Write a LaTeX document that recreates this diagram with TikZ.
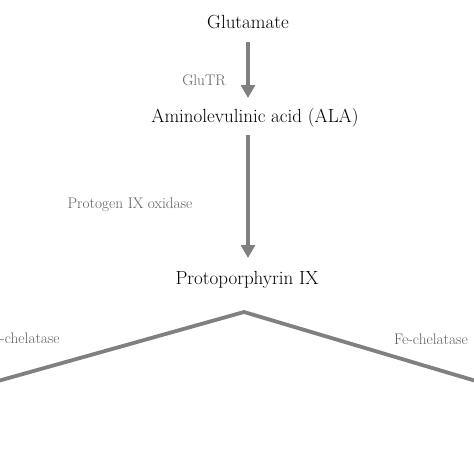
\documentclass[tikz,border=0pt]{standalone}
\usepackage{tikz}
\usetikzlibrary{arrows.meta,positioning}
\definecolor{pathgray}{HTML}{808080}
\definecolor{enzgray}{HTML}{5F5F5F}
\tikzset{
  metab/.style={font=\fontsize{19}{22}\selectfont,inner sep=1pt},
  enzyme/.style={font=\fontsize{15.3}{18}\selectfont,text=enzgray,inner sep=1pt},
  stepline/.style={pathgray,line width=3.8pt},
  steparrow/.style={stepline,-{Triangle[width=14pt,length=13pt]}}
}

\begin{document}
\begin{tikzpicture}[x=1pt,y=-1pt]
  \useasboundingbox (0,0) rectangle (474,474);
  \node[metab] (glu) at (248,22) {Glutamate};
  \node[metab] (ala) at (255,118) {Aminolevulinic acid (ALA)};
  \node[metab] (proto) at (247,280) {Protoporphyrin IX};
  \coordinate (apex) at (244,312);
  \coordinate (leftend) at (-2,381);
  \coordinate (rightend) at (476,381);
  \draw[steparrow] (248,42) -- (248,98);
  \draw[steparrow] (248,135) -- (248,258);
  \draw[stepline,line join=miter] (leftend) -- (apex) -- (rightend);
  \node[enzyme] (glutr) at (204,80) {GluTR};
  \node[enzyme] (oxid) at (130,205) {Protogen IX oxidase};
  \node[enzyme,anchor=west] (mgchel) at (-1,338) {-chelatase};
  \node[enzyme,anchor=east] (fechel) at (469,339) {Fe-chelatase};
\end{tikzpicture}
\end{document}
